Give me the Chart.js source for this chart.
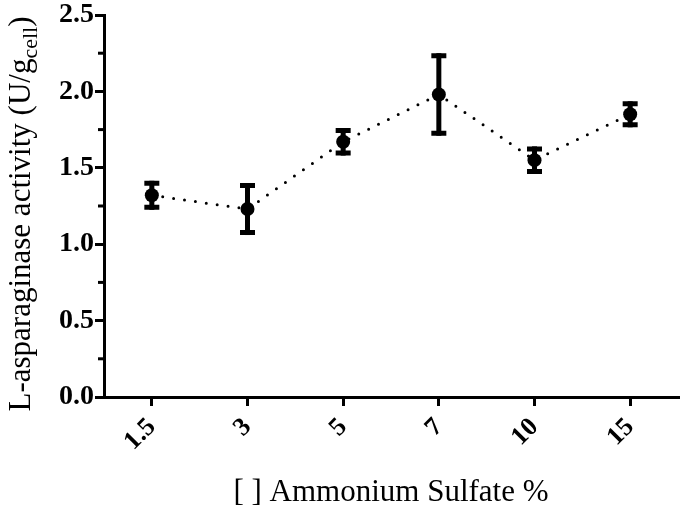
<!DOCTYPE html>
<html>

<head>
  <script src="https://cdn.jsdelivr.net/npm/chart.js@4.4.1/dist/chart.umd.min.js"></script>
  <style>
    body { margin: 0; background: #fff; }
  </style>
</head>

<body>
  <div id="chart" style="position:relative; width:685px; height:515px"></div>
  <script>
    var categories = ['1.5', '3', '5', '7', '10', '15'];
    var activity = [1.32, 1.23, 1.67, 1.98, 1.55, 1.85];
    var errors = [0.095, 0.17, 0.09, 0.27, 0.09, 0.085];
    var yTicks = [0, 0.5, 1.0, 1.5, 2.0, 2.5];
    var yMinorTicks = [0.25, 0.75, 1.25, 1.75, 2.25];

    var serif = "'Liberation Serif', 'Times New Roman', serif";

    // error bars + minor ticks + y title with subscript
    var extras = {
      id: 'extras',
      afterDatasetsDraw: function (chart) {
        var ctx = chart.ctx;
        var x = chart.scales.x, y = chart.scales.y;
        ctx.save();
        ctx.strokeStyle = '#000';
        ctx.lineCap = 'butt';
        activity.forEach(function (v, i) {
          var px = x.getPixelForValue(i);
          var top = y.getPixelForValue(v + errors[i]);
          var bot = y.getPixelForValue(v - errors[i]);
          ctx.lineWidth = 5;
          ctx.beginPath();
          ctx.moveTo(px, top);
          ctx.lineTo(px, bot);
          ctx.stroke();
          ctx.beginPath();
          ctx.moveTo(px - 7.5, top + 2.5);
          ctx.lineTo(px + 7.5, top + 2.5);
          ctx.moveTo(px - 7.5, bot - 2.5);
          ctx.lineTo(px + 7.5, bot - 2.5);
          ctx.stroke();
        });
        ctx.restore();
      },
      afterDraw: function (chart) {
        var ctx = chart.ctx;
        var y = chart.scales.y;
        var left = chart.chartArea.left;
        ctx.save();
        ctx.strokeStyle = '#000';
        ctx.lineWidth = 3;
        yMinorTicks.forEach(function (v) {
          var py = y.getPixelForValue(v);
          ctx.beginPath();
          ctx.moveTo(left, py);
          ctx.lineTo(left - 6, py);
          ctx.stroke();
        });

        var main = 'L-asparaginase activity (U/g';
        var sub = 'cell';
        var close = ')';
        var bigFont = '31px ' + serif;
        var smallFont = '22px ' + serif;
        ctx.font = bigFont;
        var w1 = ctx.measureText(main).width;
        var w3 = ctx.measureText(close).width;
        ctx.font = smallFont;
        var w2 = ctx.measureText(sub).width;
        var total = w1 + w2 + w3;
        var cy = (chart.chartArea.top + chart.chartArea.bottom) / 2 + 8;
        ctx.translate(30, cy);
        ctx.rotate(-Math.PI / 2);
        ctx.fillStyle = '#000';
        ctx.textBaseline = 'alphabetic';
        ctx.textAlign = 'left';
        var sx = -total / 2;
        ctx.font = bigFont;
        ctx.fillText(main, sx, 0);
        ctx.font = smallFont;
        ctx.fillText(sub, sx + w1, 7);
        ctx.font = bigFont;
        ctx.fillText(close, sx + w1 + w2, 0);
        ctx.restore();
      }
    };

    var canvas = document.createElement('canvas');
    document.getElementById('chart').appendChild(canvas);
    var cxt = canvas.getContext('2d');
    var myChart = new Chart(cxt, {
      type: 'line',
      data: {
        labels: categories,
        datasets: [{
          data: activity,
          borderColor: '#000',
          borderWidth: 3,
          borderDash: [0, 11],
          borderCapStyle: 'round',
          backgroundColor: '#000',
          pointRadius: 7,
          pointBackgroundColor: '#000',
          pointBorderWidth: 0,
          tension: 0,
          fill: false
        }]
      },
      options: {
        responsive: true,
        maintainAspectRatio: false,
        animation: false,
        layout: { padding: { top: 15, right: 5, left: 0, bottom: 0 } },
        plugins: {
          legend: { display: false },
          tooltip: { enabled: false }
        },
        scales: {
          x: {
            offset: true,
            afterFit: function (scale) { scale.height = 118; },
            grid: { display: true, drawOnChartArea: false, tickLength: 9, color: '#000', lineWidth: 3 },
            border: { display: true, color: '#000', width: 3 },
            ticks: {
              color: '#000',
              minRotation: 45,
              maxRotation: 45,
              padding: 6,
              font: { family: serif, size: 26, weight: 'bold' }
            },
            title: {
              display: true,
              text: '[ ] Ammonium Sulfate %',
              color: '#000',
              font: { family: serif, size: 31 },
              padding: { top: 4, bottom: 4 }
            }
          },
          y: {
            min: 0,
            max: 2.5,
            afterBuildTicks: function (scale) {
              scale.ticks = yTicks.map(function (v) { return { value: v }; });
            },
            afterFit: function (scale) { scale.width = 104; },
            grid: { display: true, drawOnChartArea: false, tickLength: 9, color: '#000', lineWidth: 3 },
            border: { display: true, color: '#000', width: 3 },
            ticks: {
              color: '#000',
              padding: 1,
              font: { family: serif, size: 28, weight: 'bold', lineHeight: 1.0 },
              callback: function (v) { return Number(v).toFixed(1); }
            }
          }
        }
      },
      plugins: [extras]
    });
  </script>
</body>

</html>
